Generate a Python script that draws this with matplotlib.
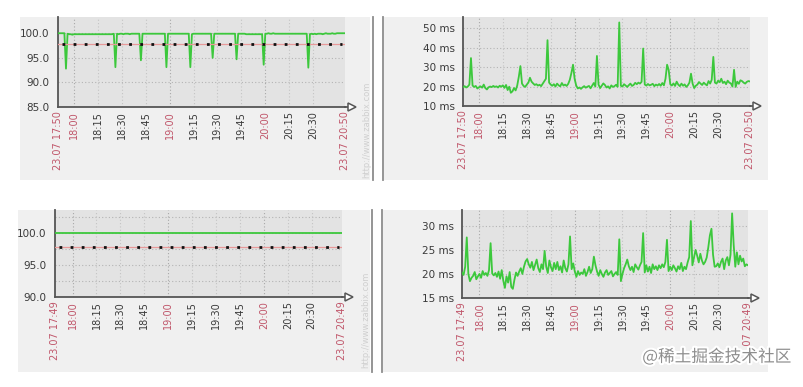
import matplotlib
matplotlib.use('Agg')
import matplotlib.pyplot as plt
import matplotlib.patheffects as pe
from matplotlib.patches import Rectangle
from matplotlib.lines import Line2D

W, H = 804, 387

# minutes since the start of each 3 hour window
minutes = list(range(181))

# top left: packet success %, one value per minute
tl_loss = [
    100.0, 100.0, 100.0, 100.0, 100.0, 92.8, 99.9, 99.8, 99.8, 99.7,
    99.8, 99.8, 99.8, 99.8, 99.8, 99.8, 99.8, 99.8, 99.8, 99.8,
    99.8, 99.8, 99.8, 99.8, 99.8, 99.8, 99.8, 99.8, 99.8, 99.8,
    99.8, 99.8, 99.8, 99.8, 99.8, 99.9, 93.1, 99.9, 99.8, 99.9,
    99.9, 99.8, 99.9, 99.9, 99.9, 99.8, 99.9, 99.9, 99.9, 99.9,
    99.9, 99.9, 94.5, 99.9, 99.9, 99.9, 99.9, 99.9, 99.9, 99.9,
    99.9, 99.9, 99.9, 99.9, 99.9, 99.9, 99.9, 99.9, 93.1, 99.9,
    99.9, 99.9, 99.9, 99.9, 99.9, 99.9, 99.9, 99.9, 99.9, 99.9,
    99.9, 99.9, 99.9, 93.1, 99.8, 99.9, 99.9, 99.9, 99.9, 99.9,
    99.9, 99.9, 99.9, 99.9, 99.9, 99.9, 99.9, 95.0, 99.9, 99.9,
    99.9, 99.9, 99.9, 99.9, 99.9, 99.9, 99.9, 99.9, 99.9, 99.9,
    99.9, 99.9, 94.7, 99.9, 99.9, 99.9, 99.9, 99.9, 99.8, 99.8,
    99.8, 99.8, 99.8, 99.8, 99.8, 99.8, 99.8, 99.8, 99.8, 93.6,
    99.9, 99.9, 100.0, 99.9, 99.9, 100.0, 99.9, 99.9, 99.9, 99.9,
    99.9, 99.9, 99.9, 99.9, 99.9, 99.9, 99.9, 99.9, 99.9, 99.9,
    99.9, 99.9, 99.9, 99.9, 99.9, 99.9, 99.9, 93.0, 99.8, 99.9,
    99.8, 99.9, 99.8, 99.9, 99.9, 99.9, 99.8, 99.9, 100.0, 99.9,
    99.9, 99.9, 100.0, 99.9, 99.9, 100.0, 100.0, 100.0, 100.0, 100.0, 100.0,
]

# top right: response time in ms
tr_ping = [
    19.6, 20.2, 19.5, 20.0, 21.0, 34.6, 20.5, 19.8, 20.3, 19.0,
    19.6, 20.1, 19.4, 21.0, 19.2, 18.5, 19.6, 20.0, 19.7, 20.3,
    19.8, 20.1, 19.5, 20.4, 19.9, 20.6, 19.3, 20.8, 18.2, 19.9,
    16.8, 17.5, 19.2, 18.0, 20.5, 25.0, 30.5, 21.5, 20.3, 19.8,
    21.0, 22.0, 24.5, 22.5, 21.6, 20.8, 21.2, 20.5, 20.9, 20.2,
    21.5, 22.8, 24.0, 43.8, 22.0, 21.0, 20.4, 21.2, 20.0, 21.5,
    20.6, 20.1, 21.8, 20.5, 21.0, 20.3, 21.4, 23.5, 27.0, 31.2,
    24.0, 20.5, 19.0, 19.5, 18.8, 19.6, 20.2, 19.4, 19.9, 20.3,
    19.1, 20.5, 21.8, 20.0, 35.7, 21.0, 19.2, 20.4, 21.6, 20.8,
    19.5, 20.1, 19.0, 20.6, 19.8, 20.2, 20.9, 19.9, 52.9, 20.4,
    20.0, 21.2, 20.5, 19.8, 20.7, 21.5, 20.3, 20.8, 21.9, 21.2,
    22.0, 21.5, 22.4, 39.5, 21.0, 20.5, 21.3, 20.6, 20.9, 21.4,
    20.2, 21.0, 20.5, 21.3, 20.4, 21.8, 20.6, 24.0, 31.2, 28.5,
    21.2, 20.5, 21.6, 20.3, 22.5, 21.0, 20.2, 21.5, 20.4, 21.1,
    19.8, 20.6, 22.0, 26.6, 21.5, 19.2, 20.4, 21.0, 22.3, 21.5,
    20.8, 22.0, 21.2, 20.6, 22.8, 21.5, 23.5, 35.2, 22.0, 21.5,
    23.0, 22.2, 24.0, 21.8, 22.5, 21.2, 23.0, 22.0, 21.6, 20.0,
    28.6, 19.8, 22.5, 21.4, 23.2, 22.8, 22.0, 21.5, 22.4, 22.8, 22.6,
]

# bottom left: packet success %, sampled every 15 min
bl_minutes = [0, 15, 30, 45, 60, 75, 90, 105, 120, 135, 150, 165, 180]
bl_loss = [100.0, 100.0, 100.0, 100.0, 100.0, 100.0, 100.0, 100.0, 100.0, 100.0, 100.0, 100.0, 100.0]

# bottom right: response time in ms
br_ping = [
    20.3, 19.8, 21.5, 27.6, 20.0, 18.5, 19.2, 19.6, 20.4, 18.9,
    19.5, 20.0, 19.2, 20.6, 19.8, 20.2, 19.6, 20.8, 26.4, 20.1,
    19.7, 20.2, 19.4, 20.5, 19.0, 20.8, 18.6, 17.1, 19.5, 18.2,
    20.4, 17.3, 16.9, 18.8, 20.3, 19.6, 20.5, 21.2, 20.0, 21.5,
    22.6, 23.1, 22.0, 21.3, 22.5, 20.8, 21.9, 23.0, 21.2, 20.4,
    22.0, 21.0, 24.8, 21.5, 20.2, 22.8, 21.4, 20.6, 22.3, 21.0,
    22.5, 20.8, 21.6, 20.3, 22.8, 21.2, 20.5, 22.0, 27.8, 21.0,
    22.2, 20.5, 19.4, 20.6, 19.8, 20.3, 20.0, 21.0, 19.6, 20.4,
    21.5, 20.2, 21.0, 23.6, 21.8, 20.5, 19.6, 20.8, 20.0, 19.4,
    20.3, 20.8, 19.8, 20.2, 20.6, 19.5, 20.0, 20.4, 19.8, 27.2,
    18.5, 20.0, 21.2, 22.0, 23.0, 21.6, 20.8, 21.5, 20.4, 22.0,
    21.4, 20.9, 21.8, 22.5, 28.5, 20.3, 21.8, 20.5, 21.5, 20.2,
    22.0, 21.0, 21.6, 20.8, 21.8, 21.2, 22.0, 21.4, 22.5, 27.1,
    20.6, 21.5, 20.8, 21.8, 21.2, 20.5, 21.6, 21.0, 22.3, 20.6,
    21.5, 21.0, 22.4, 23.5, 31.0, 21.8, 23.4, 25.0, 23.8, 22.4,
    24.2, 22.8, 22.0, 22.5, 23.4, 25.5, 28.0, 29.4, 24.0, 21.5,
    21.6, 22.2, 21.4, 22.5, 23.2, 21.0, 22.8, 23.5, 21.8, 24.0,
    32.6, 26.0, 21.5, 24.5, 22.0, 23.8, 22.6, 23.2, 21.6, 22.0, 21.8,
]

threshold = 97.8

top_ticks = [0, 10, 25, 40, 55, 70, 85, 100, 115, 130, 145, 160, 180]
top_labels = ['23.07 17:50', '18:00', '18:15', '18:30', '18:45', '19:00', '19:15',
              '19:30', '19:45', '20:00', '20:15', '20:30', '23.07 20:50']
bot_ticks = [0, 11, 26, 41, 56, 71, 86, 101, 116, 131, 146, 161, 180]
bot_labels = ['23.07 17:49', '18:00', '18:15', '18:30', '18:45', '19:00', '19:15',
              '19:30', '19:45', '20:00', '20:15', '20:30', '23.07 20:49']
red_labels = {0, 1, 5, 9, 12}

PANEL = '#f0f0f0'
PLOT = '#e3e3e3'
GREEN = '#3cc83c'
RED_TXT = '#c0566a'
TXT = '#3a3a3a'

fig = plt.figure(figsize=(W / 100, H / 100), dpi=100)
fig.patch.set_facecolor('white')


def fx(x):
    return x / W


def fy(y):
    return 1 - y / H


def panel(x0, y0, x1, y1):
    fig.add_artist(Rectangle((fx(x0), fy(y1)), fx(x1) - fx(x0), fy(y0) - fy(y1),
                             transform=fig.transFigure, facecolor=PANEL,
                             edgecolor='none', zorder=0))


def sep(x, y0, y1):
    fig.add_artist(Line2D([fx(x), fx(x)], [fy(y0), fy(y1)], transform=fig.transFigure,
                          color='#8c8c8c', lw=1.3))


def graph(box, x, y, ylim, yticks, ylabels, grid_y, ticks, labels, thr=None):
    x0, y0, x1, y1 = box
    ax = fig.add_axes([fx(x0), fy(y1), fx(x1) - fx(x0), fy(y0) - fy(y1)])
    ax.set_facecolor(PLOT)
    ax.set_xlim(0, 180)
    ax.set_ylim(*ylim)
    for g in grid_y:
        ax.axhline(g, color='#b4b4b4', lw=0.8, ls=(0, (1, 2)), zorder=1)
    for i, t in enumerate(ticks[1:-1], start=1):
        c = '#a8a8a8' if i in red_labels else '#c4c4c4'
        ax.axvline(t, color=c, lw=0.8, ls=(0, (1, 2)), zorder=1)
    ax.plot(x, y, color=GREEN, lw=1.3, zorder=3)
    if thr is not None:
        ax.axhline(thr, color='#e89a9a', lw=0.9, zorder=4)
        ax.axhline(thr, xmin=0.015, xmax=0.99, color='#111111', lw=2.0,
                   ls=(0, (1, 3)), zorder=5)
    ax.set_yticks(yticks)
    ax.set_yticklabels(ylabels, fontsize=7.5, color=TXT)
    ax.set_xticks(ticks)
    ax.set_xticklabels(labels, rotation=90, fontsize=7, va='top')
    for i, lab in enumerate(ax.get_xticklabels()):
        lab.set_color(RED_TXT if i in red_labels else TXT)
    ax.tick_params(axis='both', length=0)
    ax.tick_params(axis='y', pad=6)
    ax.tick_params(axis='x', pad=3)
    for s in ['top', 'right']:
        ax.spines[s].set_visible(False)
    for s in ['left', 'bottom']:
        ax.spines[s].set_color('#555555')
        ax.spines[s].set_linewidth(1.3)
    # arrow at the end of the time axis
    ax.plot([1.0, 1.022], [0, 0], color='#555555', lw=1.3, transform=ax.transAxes,
            clip_on=False)
    ax.plot([1.026], [0], marker='>', ms=6, mfc='white', mec='#555555', mew=1.1,
            transform=ax.transAxes, clip_on=False)
    return ax


# panel backgrounds and separators
panel(20, 17, 370, 180)
panel(384, 17, 768, 180)
panel(18, 210, 370, 372)
panel(383, 210, 768, 372)
sep(373, 17, 180)
sep(383.5, 17, 180)
sep(372, 210, 372)
sep(382.5, 210, 372)

graph((58, 17, 345, 107), minutes, tl_loss, (85, 103.3),
      [85, 90, 95, 100], ['85.0', '90.0', '95.0', '100.0'], [90, 95, 100],
      top_ticks, top_labels, thr=threshold)
graph((463, 17, 750, 106), minutes, tr_ping, (10, 55.7),
      [10, 20, 30, 40, 50], ['10 ms', '20 ms', '30 ms', '40 ms', '50 ms'],
      [20, 30, 40, 50], top_ticks, top_labels)
graph((55, 210, 342, 297), bl_minutes, bl_loss, (90, 103.6),
      [90, 95, 100], ['90.0', '95.0', '100.0'], [92.5, 95, 97.5, 100, 102.5],
      bot_ticks, bot_labels, thr=threshold)
graph((462, 210, 748, 298), minutes, br_ping, (15, 33.3),
      [15, 20, 25, 30], ['15 ms', '20 ms', '25 ms', '30 ms'], [20, 25, 30],
      bot_ticks, bot_labels)

# faint zabbix url on the side of the left graphs
fig.text(fx(367), fy(130), 'http://www.zabbix.com', rotation=90, fontsize=6,
         color='#cfcfcf', ha='center', va='center')
fig.text(fx(366), fy(320), 'http://www.zabbix.com', rotation=90, fontsize=6,
         color='#cfcfcf', ha='center', va='center')

# site watermark, drawn over the graph with a light halo
wm = fig.text(fx(791), fy(357), '@稀土掘金技术社区', fontsize=12, color='#8e8e8e',
              ha='right', va='center', family=['Noto Sans CJK SC', 'DejaVu Sans'],
              zorder=10)
wm.set_path_effects([pe.withStroke(linewidth=3, foreground='white')])

fig.savefig('out.png', dpi=100, facecolor='white')
